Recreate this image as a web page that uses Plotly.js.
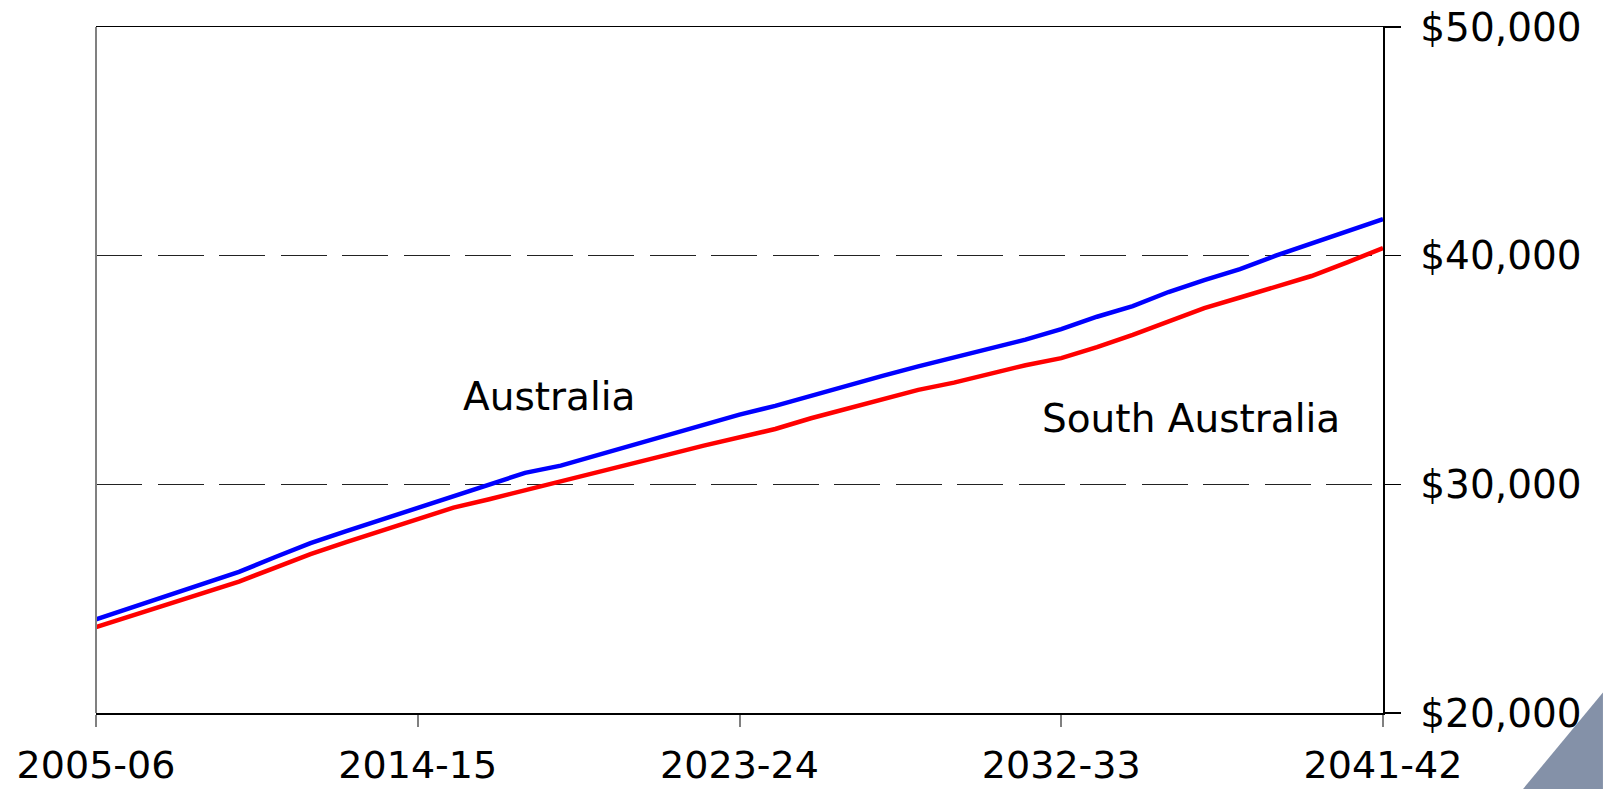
<!DOCTYPE html>
<html>
<head>
<meta charset="utf-8">
<script src="https://cdn.plot.ly/plotly-3.0.1.min.js"></script>
<style>
  html, body { margin: 0; padding: 0; background: #ffffff; }
  #chart { width: 1603px; height: 789px; }
</style>
</head>
<body>
<div id="chart"></div>
<script>
// Financial years 2005-06 .. 2041-42
const years = [
  "2005-06","2006-07","2007-08","2008-09","2009-10","2010-11","2011-12","2012-13",
  "2013-14","2014-15","2015-16","2016-17","2017-18","2018-19","2019-20","2020-21",
  "2021-22","2022-23","2023-24","2024-25","2025-26","2026-27","2027-28","2028-29",
  "2029-30","2030-31","2031-32","2032-33","2033-34","2034-35","2035-36","2036-37",
  "2037-38","2038-39","2039-40","2040-41","2041-42"
];

// Australia (blue)
const australia = [
  24090, 24610, 25130, 25650, 26170, 26810, 27430, 27950, 28450, 28950,
  29470, 29980, 30500, 30820, 31260, 31710, 32160, 32600, 33050, 33430,
  33880, 34320, 34740, 35160, 35550, 35940, 36330, 36790, 37330, 37790,
  38410, 38930, 39410, 40000, 40530, 41060, 41600
];

// South Australia (red)
const southAustralia = [
  23760, 24260, 24760, 25260, 25750, 26350, 26950, 27470, 27970, 28480,
  28980, 29350, 29730, 30150, 30540, 30920, 31300, 31690, 32070, 32420,
  32890, 33300, 33720, 34130, 34450, 34840, 35210, 35520, 36000, 36540,
  37130, 37710, 38170, 38630, 39110, 39710, 40330
];

const xTickLabels = ["2005-06","2014-15","2023-24","2032-33","2041-42"];
const yTickValues = [20000, 30000, 40000, 50000];

const seriesNames = ["Australia", "South Australia"];

const FONT = "DejaVu Sans, Verdana, Arial, sans-serif";

const traces = [
  {
    x: years, y: australia, type: "scatter", mode: "lines",
    name: seriesNames[0],
    line: { color: "#0000ff", width: 4.5 }
  },
  {
    x: years, y: southAustralia, type: "scatter", mode: "lines",
    name: seriesNames[1],
    line: { color: "#ff0000", width: 4.5 }
  }
];

const layout = {
  width: 1603,
  height: 789,
  margin: { l: 96, r: 220, t: 27, b: 76, pad: 0 },
  paper_bgcolor: "#ffffff",
  plot_bgcolor: "#ffffff",
  showlegend: false,
  font: { family: FONT, size: 39, color: "#000000" },
  xaxis: {
    type: "category",
    range: [0, years.length - 1],
    tickmode: "array",
    tickvals: xTickLabels,
    ticktext: xTickLabels,
    ticks: "outside",
    ticklen: 12,
    tickwidth: 2,
    tickcolor: "#808080",
    showgrid: false,
    zeroline: false,
    showline: true,
    linecolor: "#000000",
    linewidth: 1.5,
    mirror: true,
    tickfont: { family: FONT, size: 38, color: "#000000" },
    ticklabelstandoff: 6,
    fixedrange: true
  },
  yaxis: {
    side: "right",
    range: [20000, 50000],
    tickmode: "array",
    tickvals: yTickValues,
    tickformat: "$,.0f",
    ticks: "outside",
    ticklen: 16,
    tickwidth: 1.5,
    tickcolor: "#000000",
    showgrid: true,
    gridcolor: "#222222",
    gridwidth: 1.2,
    griddash: "46px,15.5px",
    zeroline: false,
    showline: true,
    linecolor: "#000000",
    linewidth: 1.5,
    tickfont: { family: FONT, size: 39, color: "#000000" },
    ticklabelstandoff: 12,
    fixedrange: true
  },
  shapes: [
    // grey left frame line
    { type: "line", xref: "paper", yref: "paper", x0: 0, x1: 0, y0: 0, y1: 1,
      line: { color: "#808080", width: 2 }, layer: "above" },
    // slide decoration triangle (bottom-right corner)
    { type: "path", xref: "paper", yref: "paper",
      path: "M 1.1088 -0.1108 L 1.1709 0.030 L 1.1709 -0.1108 Z",
      fillcolor: "#8491a8", line: { width: 0 }, layer: "above" }
  ],
  annotations: [
    { text: seriesNames[0], xref: "paper", yref: "paper", x: 0.352, y: 0.462,
      xanchor: "center", yanchor: "middle", showarrow: false,
      font: { family: FONT, size: 39, color: "#000000" } },
    { text: seriesNames[1], xref: "paper", yref: "paper", x: 0.851, y: 0.4286,
      xanchor: "center", yanchor: "middle", showarrow: false,
      font: { family: FONT, size: 39, color: "#000000" } }
  ]
};

Plotly.newPlot("chart", traces, layout, { displayModeBar: false, staticPlot: true });
</script>
</body>
</html>
